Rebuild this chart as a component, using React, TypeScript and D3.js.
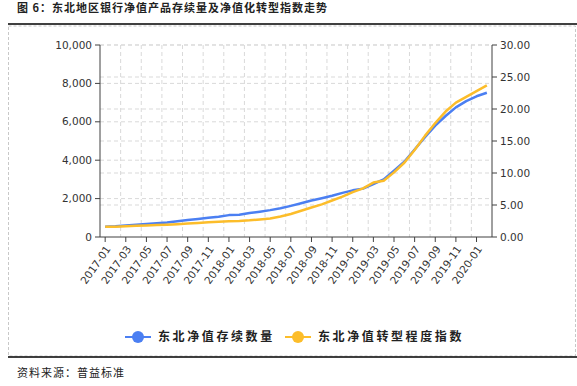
import React from "react";
import { scaleBand, scaleLinear, line, format } from "d3";

// monthly categories 2017-01 .. 2020-02
const months = [
  "2017-01", "2017-02", "2017-03", "2017-04", "2017-05", "2017-06",
  "2017-07", "2017-08", "2017-09", "2017-10", "2017-11", "2017-12",
  "2018-01", "2018-02", "2018-03", "2018-04", "2018-05", "2018-06",
  "2018-07", "2018-08", "2018-09", "2018-10", "2018-11", "2018-12",
  "2019-01", "2019-02", "2019-03", "2019-04", "2019-05", "2019-06",
  "2019-07", "2019-08", "2019-09", "2019-10", "2019-11", "2019-12",
  "2020-01", "2020-02",
];

// 东北净值存续数量 (left axis)
const volume = [
  540, 560, 600, 640, 680, 720, 760, 820, 880, 940, 1000, 1060,
  1140, 1160, 1250, 1320, 1400, 1500, 1620, 1760, 1900, 2020, 2150, 2300,
  2430, 2520, 2760, 3000, 3450, 3920, 4560, 5200, 5800, 6300, 6750, 7080,
  7330, 7510,
];

// 东北净值转型程度指数 (right axis)
const index = [
  1.6, 1.62, 1.68, 1.74, 1.8, 1.86, 1.92, 2.0, 2.1, 2.2, 2.3, 2.38,
  2.45, 2.5, 2.6, 2.75, 2.9, 3.2, 3.6, 4.1, 4.6, 5.1, 5.7, 6.3,
  7.0, 7.6, 8.5, 8.8, 10.1, 11.6, 13.6, 15.8, 17.8, 19.6, 21.0, 21.9,
  22.8, 23.7,
];

const leftTicks = [0, 2000, 4000, 6000, 8000, 10000];
const rightTicks = [0, 5, 10, 15, 20, 25, 30];

const title = "图 6：东北地区银行净值产品存续量及净值化转型指数走势";
const source = "资料来源：普益标准";
const seriesNames = ["东北净值存续数量", "东北净值转型程度指数"];
const colors = ["#4b7ff2", "#fcbd2a"];

const cjk = "'Noto Sans CJK SC', sans-serif";
const latin = "'DejaVu Sans', Verdana, sans-serif";

export default function App() {
  const width = 577;
  const height = 386;
  const left = 100;
  const right = 492;
  const top = 45;
  const bottom = 237;

  const x = scaleBand<string>().domain(months).range([left, right]);
  const xc = (m: string) => (x(m) as number) + x.bandwidth() / 2;
  const yL = scaleLinear().domain([0, 10000]).range([bottom, top]);
  const yR = scaleLinear().domain([0, 30]).range([bottom, top]);
  const fmtL = format(",");
  const fmtR = format(".2f");

  const labelled = months.filter((_, i) => i % 2 === 0);
  const gridX = months.filter((_, i) => i % 2 === 0 && i > 0).map((m) => x(m) as number);

  const volLine = line<number>()
    .x((_, i) => xc(months[i]))
    .y((d) => yL(d));
  const idxLine = line<number>()
    .x((_, i) => xc(months[i]))
    .y((d) => yR(d));

  const grid = "#d9d9d9";
  const axis = "#404040";

  return (
    <svg width={width} height={height} style={{ position: "absolute", left: 0, top: 0, background: "#fff" }}>
      <text x={17} y={12} fontFamily={cjk} fontSize={11} fontWeight={700} fill="#222" letterSpacing={1}>
        {title}
      </text>
      <line x1={8} x2={577} y1={24} y2={24} stroke="#000" strokeWidth={1.5} />
      <rect x={8.5} y={26} width={567} height={330} fill="none" stroke="#c8c8c8" strokeDasharray="3,2" />

      {/* horizontal grid */}
      {leftTicks.slice(1).map((t) => (
        <line key={"gl" + t} x1={left} x2={right} y1={yL(t)} y2={yL(t)} stroke={grid} strokeDasharray="4,3" />
      ))}
      {rightTicks.slice(1).map((t) => (
        <line key={"gr" + t} x1={left} x2={right} y1={yR(t)} y2={yR(t)} stroke={grid} strokeDasharray="4,3" />
      ))}
      {/* vertical grid */}
      {gridX.map((gx, i) => (
        <line key={"gx" + i} x1={gx} x2={gx} y1={top} y2={bottom} stroke={grid} strokeDasharray="4,3" />
      ))}

      {/* left axis */}
      <line x1={left} x2={left} y1={top} y2={bottom} stroke={axis} />
      {leftTicks.map((t) => (
        <g key={"l" + t} transform={`translate(${left},${yL(t)})`}>
          <line x1={-5} x2={0} stroke={axis} />
          <text x={-8} dy="0.35em" textAnchor="end" fontFamily={latin} fontSize={10.5} fill="#333">
            {fmtL(t)}
          </text>
        </g>
      ))}

      {/* right axis */}
      <line x1={right} x2={right} y1={top} y2={bottom} stroke={axis} />
      {rightTicks.map((t) => (
        <g key={"r" + t} transform={`translate(${right},${yR(t)})`}>
          <line x1={0} x2={5} stroke={axis} />
          <text x={8} dy="0.35em" fontFamily={latin} fontSize={10.5} fill="#333">
            {fmtR(t)}
          </text>
        </g>
      ))}

      {/* bottom axis */}
      <line x1={left} x2={right} y1={bottom} y2={bottom} stroke={axis} />
      {labelled.map((m) => (
        <g key={m} transform={`translate(${xc(m)},${bottom})`}>
          <line y1={0} y2={5} stroke={axis} />
          <text
            transform="translate(3,10) rotate(-55)"
            textAnchor="end"
            dy="0.35em"
            fontFamily={latin}
            fontSize={10.5}
            fill="#333"
          >
            {m}
          </text>
        </g>
      ))}

      {/* series */}
      <path d={volLine(volume) ?? ""} fill="none" stroke={colors[0]} strokeWidth={2.5} strokeLinejoin="round" />
      <path d={idxLine(index) ?? ""} fill="none" stroke={colors[1]} strokeWidth={2.5} strokeLinejoin="round" />

      {/* legend */}
      {[125, 285].map((lx, i) => (
        <g key={"lg" + i} transform={`translate(${lx},337)`}>
          <line x1={0} x2={26} stroke={colors[i]} strokeWidth={2} />
          <circle cx={13} cy={0} r={6} fill={colors[i]} />
          <text x={33} dy="0.35em" fontFamily={cjk} fontSize={12} fontWeight={700} letterSpacing={2.6} fill="#222">
            {seriesNames[i]}
          </text>
        </g>
      ))}

      <line x1={8} x2={577} y1={357} y2={357} stroke="#000" strokeWidth={1.5} />
      <text x={17} y={377} fontFamily={cjk} fontSize={11} fill="#222" letterSpacing={1}>
        {source}
      </text>
    </svg>
  );
}
